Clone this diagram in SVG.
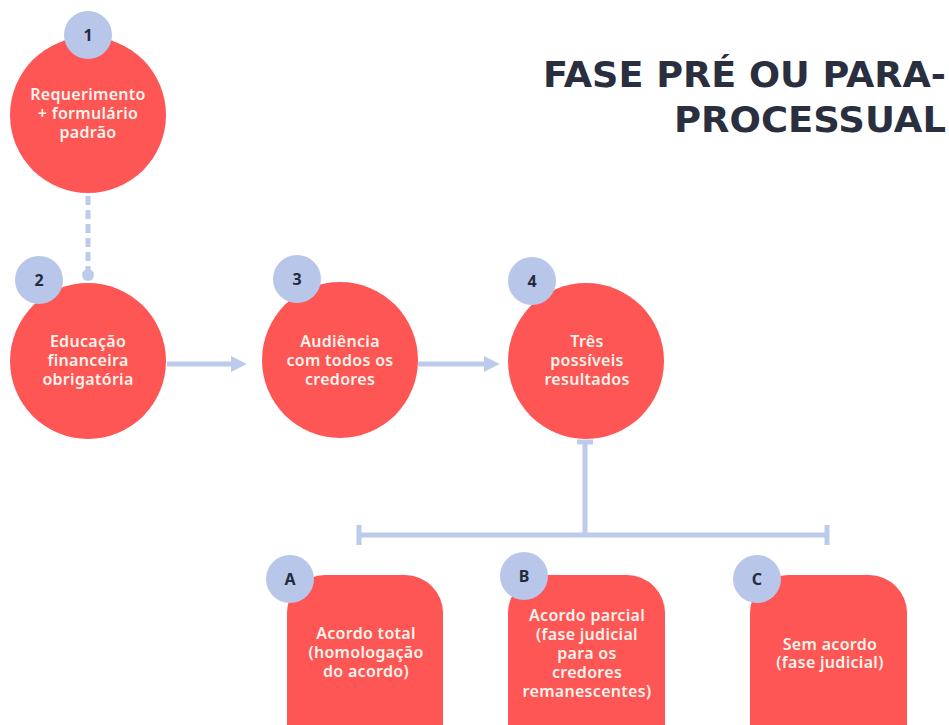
<svg xmlns="http://www.w3.org/2000/svg" width="949" height="725" viewBox="0 0 949 725">
<defs>
<style>
.node{fill:#fe5555}
.badge{fill:#b8c6e9}
.bt{font-family:"Noto Sans",sans-serif;font-weight:700;font-size:16px;fill:#262b3b;text-anchor:middle}
.lbl{font-family:"Noto Sans",sans-serif;font-weight:600;font-size:16px;letter-spacing:0.3px;fill:#fcf3ea;text-anchor:middle}
.title{font-family:"DejaVu Sans",sans-serif;font-weight:700;font-size:36px;fill:#2a2f3f;text-anchor:end}
.con{stroke:#bccbec;stroke-width:5;fill:none}
</style>
<marker id="arr" viewBox="0 0 10 10" refX="2" refY="5" markerWidth="3.2" markerHeight="3.4" orient="auto" markerUnits="strokeWidth">
<path d="M0,0 L10,5 L0,10 Z" fill="#bccbec"/>
</marker>
</defs>
<rect width="949" height="725" fill="#ffffff"/>
<g id="title">
<text class="title" x="946" y="87" textLength="403" lengthAdjust="spacingAndGlyphs">FASE PRÉ OU PARA-</text>
<text class="title" x="946" y="132" textLength="272" lengthAdjust="spacingAndGlyphs">PROCESSUAL</text>
</g>
<g id="connectors">
<line class="con" x1="88" y1="196" x2="88" y2="272" stroke-width="3.5" stroke-dasharray="9 5"/>
<circle cx="88" cy="275" r="6" fill="#bccbec"/>
<line class="con" x1="167" y1="364" x2="234" y2="364" marker-end="url(#arr)"/>
<line class="con" x1="418" y1="364" x2="487" y2="364" marker-end="url(#arr)"/>
<line class="con" x1="585" y1="442" x2="585" y2="533"/>
<line class="con" x1="577" y1="442" x2="593" y2="442" stroke-width="4"/>
<line class="con" x1="359" y1="535" x2="827" y2="535"/>
<line class="con" x1="359" y1="525" x2="359" y2="545" stroke-width="4"/>
<line class="con" x1="827" y1="525" x2="827" y2="545" stroke-width="4"/>
</g>
<g id="node1">
<circle class="node" cx="88" cy="115" r="78"/>
<circle class="badge" cx="88" cy="35" r="24"/>
<text class="bt" x="88" y="41">1</text>
<text class="lbl" x="88" y="100">Requerimento</text>
<text class="lbl" x="88" y="119">+ formulário</text>
<text class="lbl" x="88" y="138">padrão</text>
</g>
<g id="node2">
<circle class="node" cx="88" cy="361" r="78"/>
<circle class="badge" cx="39" cy="280" r="24"/>
<text class="bt" x="39" y="286">2</text>
<text class="lbl" x="88" y="347">Educação</text>
<text class="lbl" x="88" y="366">financeira</text>
<text class="lbl" x="88" y="385">obrigatória</text>
</g>
<g id="node3">
<circle class="node" cx="340" cy="360" r="78"/>
<circle class="badge" cx="297" cy="279" r="24"/>
<text class="bt" x="297" y="285">3</text>
<text class="lbl" x="340" y="347">Audiência</text>
<text class="lbl" x="340" y="366">com todos os</text>
<text class="lbl" x="340" y="385">credores</text>
</g>
<g id="node4">
<circle class="node" cx="586" cy="361" r="78"/>
<circle class="badge" cx="532" cy="281" r="24"/>
<text class="bt" x="532" y="287">4</text>
<text class="lbl" x="587" y="347">Três</text>
<text class="lbl" x="587" y="366">possíveis</text>
<text class="lbl" x="587" y="385">resultados</text>
</g>
<g id="nodeA">
<rect class="node" x="287" y="575" width="156" height="190" rx="38"/>
<circle class="badge" cx="290" cy="579" r="24"/>
<text class="bt" x="290" y="585">A</text>
<text class="lbl" x="366" y="639">Acordo total</text>
<text class="lbl" x="366" y="658">(homologação</text>
<text class="lbl" x="366" y="677">do acordo)</text>
</g>
<g id="nodeB">
<rect class="node" x="508" y="575" width="157" height="190" rx="38"/>
<circle class="badge" cx="524" cy="576" r="24"/>
<text class="bt" x="524" y="582">B</text>
<text class="lbl" x="587" y="621">Acordo parcial</text>
<text class="lbl" x="587" y="640">(fase judicial</text>
<text class="lbl" x="587" y="659">para os</text>
<text class="lbl" x="587" y="678">credores</text>
<text class="lbl" x="587" y="697">remanescentes)</text>
</g>
<g id="nodeC">
<rect class="node" x="750" y="575" width="157" height="190" rx="38"/>
<circle class="badge" cx="757" cy="579" r="24"/>
<text class="bt" x="757" y="585">C</text>
<text class="lbl" x="830" y="650">Sem acordo</text>
<text class="lbl" x="830" y="668">(fase judicial)</text>
</g>
</svg>
